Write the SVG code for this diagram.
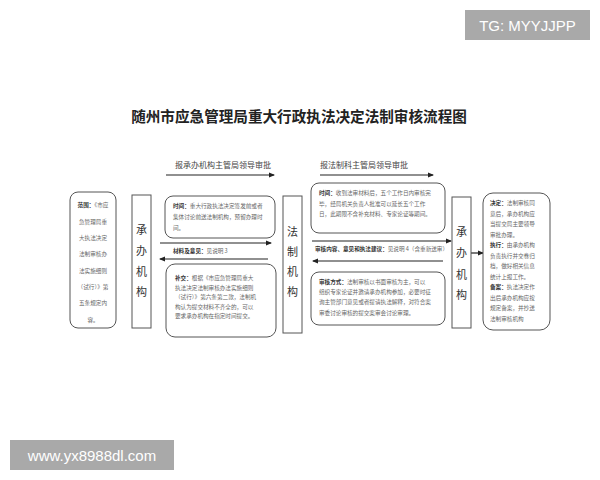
<svg xmlns="http://www.w3.org/2000/svg" width="600" height="480" viewBox="0 0 600 480">
<defs>
<marker id="ah" markerWidth="6" markerHeight="6" refX="5" refY="3" orient="auto" markerUnits="userSpaceOnUse">
<path d="M0,0.5 L6,3 L0,5.5 Z" fill="#222"/>
</marker>
<style>
.bx{fill:#fff;stroke:#555;stroke-width:1}
.rc{fill:#fff;stroke:#555;stroke-width:1}
.ln{stroke:#222;stroke-width:1.2;fill:none;marker-end:url(#ah)}
.t{font-family:"Noto Sans CJK SC","Noto Sans CJK TC",sans-serif;fill:#666;font-size:5.6px}
.b{font-weight:bold;fill:#333}
.v{font-family:"Noto Sans CJK SC","Noto Sans CJK TC",serif;fill:#333;font-size:11px;text-anchor:middle}
.lab{font-family:"Noto Sans CJK SC","Noto Sans CJK TC",serif;fill:#444;font-size:8px}
.wm{font-family:"Liberation Sans","DejaVu Sans",sans-serif;fill:#fff}
</style>
</defs>
<rect width="600" height="480" fill="#fff"/>

<text x="299" y="122" font-family="Noto Sans CJK SC,sans-serif" font-size="14.6" font-weight="bold" fill="#222" text-anchor="middle">随州市应急管理局重大行政执法决定法制审核流程图</text>

<g id="connectors">
<text class="lab" x="175" y="168">报承办机构主管局领导审批</text>
<line class="ln" x1="166" y1="175" x2="274" y2="175"/>
<text class="lab" x="320" y="168">报法制科主管局领导审批</text>
<line class="ln" x1="320" y1="175" x2="433" y2="175"/>

<line class="ln" x1="160" y1="243" x2="271" y2="243"/>
<text class="t" x="173" y="253"><tspan class="b">材料及意见：</tspan>见说明 3</text>
<line class="ln" x1="268" y1="259" x2="160" y2="259"/>

<line class="ln" x1="312" y1="241" x2="451" y2="241"/>
<text class="t" x="315" y="251" font-size="5.1"><tspan class="b">审核内容、意见和执法建议：</tspan>见说明 4（含重新送审）</text>
<line class="ln" x1="443" y1="261" x2="313" y2="261"/>

<line class="ln" x1="471" y1="253" x2="483" y2="253"/>
</g>

<g id="scope">
<rect class="bx" x="70" y="192" width="46" height="136" rx="8"/>
<g class="t" text-anchor="middle">
<text x="93" y="207"><tspan class="b">范围：</tspan>《市应</text>
<text x="93" y="223.5">急管理局重</text>
<text x="93" y="240">大执法决定</text>
<text x="93" y="256">法制审核办</text>
<text x="93" y="272.5">法实施细则</text>
<text x="93" y="289">（试行）》第</text>
<text x="93" y="305">五条规定内</text>
<text x="93" y="322">容。</text>
</g>
</g>

<g id="dept-left">
<rect class="rc" x="132" y="195" width="19" height="133"/>
<text class="v" x="141.5" y="234">承</text>
<text class="v" x="141.5" y="255">办</text>
<text class="v" x="141.5" y="276">机</text>
<text class="v" x="141.5" y="296">构</text>
</g>

<g id="time-left">
<rect class="bx" x="165" y="196" width="110" height="42" rx="8"/>
<g class="t">
<text x="173" y="208"><tspan class="b">时间：</tspan>重大行政执法决定签发前或者</text>
<text x="173" y="219">集体讨论前送法制机构，预留办理时</text>
<text x="173" y="230">间。</text>
</g>
</g>

<g id="supplement">
<rect class="bx" x="166" y="264" width="110" height="73" rx="9"/>
<g class="t" font-size="6">
<text x="175" y="280"><tspan class="b">补交：</tspan>根据《市应急管理局重大</text>
<text x="175" y="289.5">执法决定法制审核办法实施细则</text>
<text x="175" y="299">（试行）》第六条第二款，法制机</text>
<text x="175" y="308.5">构认为提交材料不齐全的，可以</text>
<text x="175" y="318">要求承办机构在指定时间提交。</text>
</g>
</g>

<g id="dept-legal">
<rect class="rc" x="283" y="196" width="19" height="137"/>
<text class="v" x="292.5" y="236">法</text>
<text class="v" x="292.5" y="256">制</text>
<text class="v" x="292.5" y="276">机</text>
<text class="v" x="292.5" y="296">构</text>
</g>

<g id="time-right">
<rect class="bx" x="311" y="183" width="134" height="50" rx="8"/>
<g class="t" font-size="5.9">
<text x="319" y="195"><tspan class="b">时间：</tspan>收到法审材料后，五个工作日内审核完</text>
<text x="319" y="205.5">毕，经局机关负责人批准可以延长五个工作</text>
<text x="319" y="216">日，此期限不含补充材料、专家论证等期间。</text>
</g>
</g>

<g id="method">
<rect class="bx" x="311" y="272" width="134" height="53" rx="8"/>
<g class="t" font-size="5.9">
<text x="319" y="284"><tspan class="b">审核方式：</tspan>法制审核以书面审核为主，可以</text>
<text x="319" y="294">组织专家论证并邀请承办机构参加，必要时征</text>
<text x="319" y="304">询主管部门意见或者提请执法解释，对符合案</text>
<text x="319" y="314.5">审委讨论审核的提交案审会讨论审理。</text>
</g>
</g>

<g id="dept-right">
<rect class="rc" x="452" y="197" width="19" height="131"/>
<text class="v" x="461.5" y="236">承</text>
<text class="v" x="461.5" y="257">办</text>
<text class="v" x="461.5" y="279">机</text>
<text class="v" x="461.5" y="299">构</text>
</g>

<g id="result">
<rect class="bx" x="483" y="193" width="67" height="137" rx="10"/>
<g class="t" font-size="6.4">
<text x="490" y="205"><tspan class="b">决定：</tspan>法制审核同</text>
<text x="490" y="215.5">意后，承办机构应</text>
<text x="490" y="226">当提交局主要领导</text>
<text x="490" y="236.5">审批办理。</text>
<text x="490" y="247"><tspan class="b">执行：</tspan>由承办机构</text>
<text x="490" y="257.5">负责执行并交卷归</text>
<text x="490" y="268">档，做好相关信息</text>
<text x="490" y="278.5">统计上报工作。</text>
<text x="490" y="289"><tspan class="b">备案：</tspan>执法决定作</text>
<text x="490" y="299.5">出后承办机构应按</text>
<text x="490" y="310">规定备案，并抄送</text>
<text x="490" y="320.5">法制审核机构</text>
</g>
</g>

<g id="watermarks">
<rect x="465" y="10" width="125" height="30" fill="#a9a9a9"/>
<text class="wm" x="527.5" y="31" font-size="15" text-anchor="middle">TG: MYYJJPP</text>
<rect x="10" y="440" width="164" height="30" fill="#a9a9a9"/>
<text class="wm" x="92" y="461" font-size="15" text-anchor="middle">www.yx8988dl.com</text>
</g>
</svg>
